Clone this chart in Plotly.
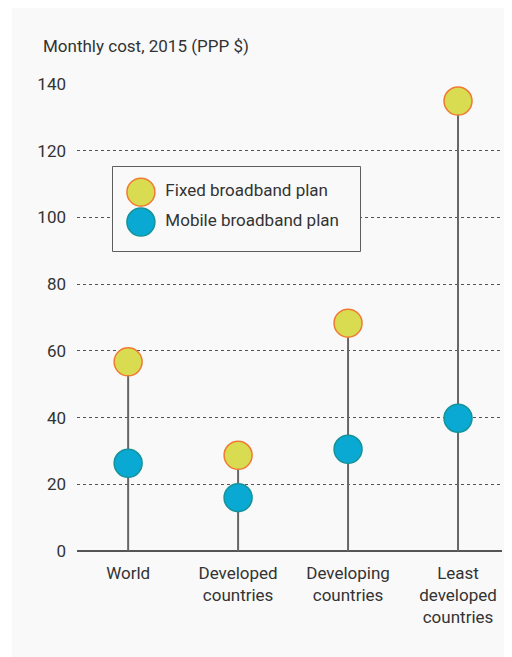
import plotly.graph_objects as go

# data
categories = ["World", "Developed<br>countries", "Developing<br>countries",
              "Least<br>developed<br>countries"]
fixed_cost = [56.7, 28.7, 68.3, 134.9]
mobile_cost = [26.3, 16.0, 30.5, 39.8]
series_names = ["Fixed broadband plan", "Mobile broadband plan"]
y_ticks = [0, 20, 40, 60, 80, 100, 120, 140]

FONT = "Roboto, sans-serif"
FSIZE = 17
TXT = "#333333"
PANEL = "#f9f9f9"
FIXED_FILL, FIXED_EDGE = "#d9dc50", "#f07a32"
MOB_FILL, MOB_EDGE = "#0aa9d3", "#15939a"

xs = list(range(len(categories)))

# stems from zero up to the top (fixed) marker
stem_x, stem_y = [], []
for i, v in zip(xs, fixed_cost):
    stem_x += [i, i, None]
    stem_y += [0, v, None]

data = [
    go.Scatter(x=stem_x, y=stem_y, mode="lines",
               line=dict(color="#666666", width=2),
               hoverinfo="skip", showlegend=False),
    go.Scatter(x=xs, y=fixed_cost, mode="markers", name=series_names[0],
               marker=dict(size=28, color=FIXED_FILL,
                           line=dict(color=FIXED_EDGE, width=1.5)),
               cliponaxis=False, showlegend=False),
    go.Scatter(x=xs, y=mobile_cost, mode="markers", name=series_names[1],
               marker=dict(size=28, color=MOB_FILL,
                           line=dict(color=MOB_EDGE, width=1.5)),
               cliponaxis=False, showlegend=False),
    # hand-made legend on an overlay axis so the symbols keep full size
    go.Scatter(x=[0.113, 0.113], y=[0.70, 0.345], xaxis="x2", yaxis="y2",
               mode="markers",
               marker=dict(size=28, color=[FIXED_FILL, MOB_FILL],
                           line=dict(color=[FIXED_EDGE, MOB_EDGE], width=1.5)),
               cliponaxis=False, hoverinfo="skip", showlegend=False),
    go.Scatter(x=[0.212, 0.212], y=[0.70, 0.345], xaxis="x2", yaxis="y2",
               mode="text", text=series_names,
               textposition="middle right",
               textfont=dict(family=FONT, size=FSIZE, color=TXT),
               cliponaxis=False, hoverinfo="skip", showlegend=False),
]

layout = go.Layout(
    width=504, height=649,
    margin=dict(l=69, r=10, t=76, b=106),
    paper_bgcolor="white",
    plot_bgcolor=PANEL,
    font=dict(family=FONT, size=FSIZE, color=TXT),
    showlegend=False,
    xaxis=dict(
        range=[-0.465, 3.4],
        tickvals=xs, ticktext=categories,
        showgrid=False, zeroline=False,
        showline=False, ticks="",
        ticklabelstandoff=10,
        fixedrange=True,
    ),
    yaxis=dict(
        range=[0, 140],
        tickvals=y_ticks,
        showgrid=True, gridcolor="#555555", griddash="dot", gridwidth=1,
        zeroline=True, zerolinecolor="#555555", zerolinewidth=2,
        showline=False, ticks="",
        ticklabelstandoff=10,
        fixedrange=True,
    ),
    xaxis2=dict(domain=[0.0847, 0.6659], range=[0, 1], visible=False,
                anchor="y2", fixedrange=True),
    yaxis2=dict(domain=[0.6424, 0.8223], range=[0, 1], visible=False,
                anchor="x2", fixedrange=True),
    shapes=[
        dict(type="rect", xref="paper", yref="paper", layer="below",
             x0=-0.1529, x1=1.0235, y0=-0.23, y1=1.17,
             fillcolor=PANEL, line=dict(width=0)),
        dict(type="rect", xref="x2 domain", yref="y2 domain",
             x0=0, x1=1, y0=0, y1=1, layer="below",
             fillcolor=PANEL, line=dict(color="#2b2b2b", width=1.5)),
    ],
    annotations=[
        dict(text="Monthly cost, 2015 (PPP $)", xref="paper", yref="paper",
             x=-0.085, y=1.081, xanchor="left", yanchor="middle",
             showarrow=False, font=dict(family=FONT, size=FSIZE, color=TXT)),
    ],
)

fig = go.Figure(data=data, layout=layout)
fig.write_html("out.html")
